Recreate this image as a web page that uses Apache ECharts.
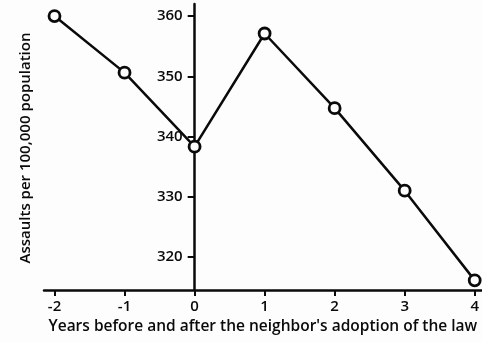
<!DOCTYPE html>
<html>
<head>
<meta charset="utf-8">
<script src="https://cdn.jsdelivr.net/npm/echarts@6/dist/echarts.min.js"></script>
<style>
html,body{margin:0;padding:0;background:#fdfdfd;}
#chart{width:482px;height:342px;}
</style>
</head>
<body>
<div id="chart"></div>
<script>
const years = [-2, -1, 0, 1, 2, 3, 4];
const assaults = [360.0, 350.6, 338.3, 357.1, 344.7, 331.0, 316.1];
const yTicks = [320, 330, 340, 350, 360];
const xTicks = [-2, -1, 0, 1, 2, 3, 4];
const xTitle = "Years before and after the neighbor's adoption of the law";
const yTitle = "Assaults per 100,000 population";

const FONT = '"Open Sans", sans-serif';
const INK = '#0a0a0a';
const BG = '#fdfdfd';

const GRID_LEFT = 44, GRID_RIGHT = 0;
const X_MIN = -2.15, X_MAX = 4.1;
const plotW = 482 - GRID_LEFT - GRID_RIGHT;
const yAxisOffset = -plotW * (0 - X_MIN) / (X_MAX - X_MIN);

const chart = echarts.init(document.getElementById('chart'), null, {renderer: 'canvas'});
chart.setOption({
  animation: false,
  backgroundColor: BG,
  grid: {left: GRID_LEFT, right: GRID_RIGHT, top: 4, bottom: 52, containLabel: false},
  xAxis: {
    type: 'value', min: X_MIN, max: X_MAX,
    splitLine: {show: false},
    axisLine: {show: true, onZero: false, lineStyle: {color: INK, width: 2.5}},
    axisTick: {show: true, length: 6, inside: false, customValues: xTicks, lineStyle: {color: INK, width: 2}},
    axisLabel: {customValues: xTicks, margin: 9, color: INK, fontFamily: FONT, fontSize: 15, fontWeight: 600},
    name: xTitle, nameLocation: 'middle', nameGap: 29,
    nameTextStyle: {color: INK, fontFamily: FONT, fontSize: 15.5, fontWeight: 600}
  },
  yAxis: {
    type: 'value', min: 314.5, max: 362,
    position: 'left', offset: yAxisOffset,
    splitLine: {show: false},
    axisLine: {show: true, onZero: false, lineStyle: {color: INK, width: 2.5}},
    axisTick: {show: true, length: 7, customValues: yTicks, lineStyle: {color: INK, width: 2}},
    axisLabel: {customValues: yTicks, margin: 12, color: INK, fontFamily: FONT, fontSize: 15, fontWeight: 600}
  },
  graphic: [{
    type: 'text', x: 26, y: 148, rotation: Math.PI / 2,
    style: {text: yTitle, fill: INK, font: '600 15px ' + FONT, align: 'center', verticalAlign: 'middle'}
  }],
  series: [{
    type: 'line', data: years.map((x, i) => [x, assaults[i]]),
    symbol: 'circle', symbolSize: 11,
    lineStyle: {color: INK, width: 2.5},
    itemStyle: {color: BG, borderColor: INK, borderWidth: 2.8},
    clip: false
  }]
});
</script>
</body>
</html>
